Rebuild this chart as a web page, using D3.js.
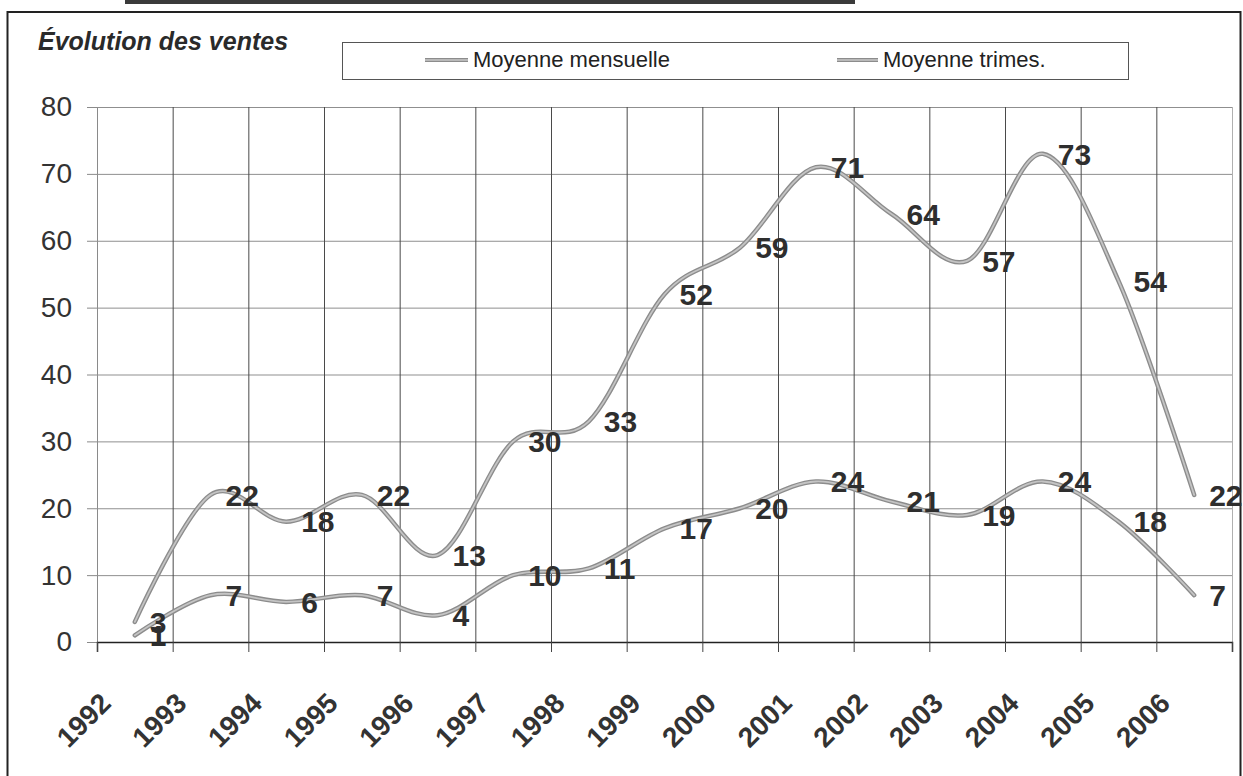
<!DOCTYPE html>
<html>
<head>
<meta charset="utf-8">
<script src="https://cdn.jsdelivr.net/npm/d3@7"></script>
<style>
  html, body { margin: 0; padding: 0; background: #ffffff; }
  svg { display: block; font-family: "Liberation Sans", Arial, sans-serif; }
</style>
</head>
<body>
<svg id="chart" width="1243" height="776"></svg>
<script>
// ---- data ----
const years = ["1992","1993","1994","1995","1996","1997","1998","1999","2000","2001","2002","2003","2004","2005","2006"];
const mensuelle = [1, 7, 6, 7, 4, 10, 11, 17, 20, 24, 21, 19, 24, 18, 7];
const trimestrielle = [3, 22, 18, 22, 13, 30, 33, 52, 59, 71, 64, 57, 73, 54, 22];
const yTicks = [0, 10, 20, 30, 40, 50, 60, 70, 80];
const seriesNames = ["Moyenne mensuelle", "Moyenne trimes."];
const titleText = "Évolution des ventes";

// ---- layout ----
const svg = d3.select("#chart");
const plot = { left: 97, right: 1232, top: 107, bottom: 642 };

const x = d3.scaleLinear().domain([0, years.length]).range([plot.left, plot.right]);
const y = d3.scaleLinear().domain([0, 80]).range([plot.bottom, plot.top]);

// frame
svg.append("rect").attr("x", 125).attr("y", 0).attr("width", 730).attr("height", 4).attr("fill", "#3a3a3a");
svg.append("rect").attr("x", 7.5).attr("y", 12).attr("width", 1233).attr("height", 800)
  .attr("fill", "none").attr("stroke", "#222").attr("stroke-width", 2);

// title
svg.append("text").attr("x", 38).attr("y", 50)
  .attr("font-size", 25).attr("font-weight", "bold").attr("font-style", "italic")
  .attr("fill", "#2a2a2a").text(titleText);

// legend
const lg = svg.append("g");
lg.append("rect").attr("x", 342.5).attr("y", 42.5).attr("width", 786).attr("height", 37)
  .attr("fill", "none").attr("stroke", "#555").attr("stroke-width", 1);
const legendItems = [{ name: seriesNames[0], x0: 425, x1: 468 }, { name: seriesNames[1], x0: 837, x1: 878 }];
legendItems.forEach(d => {
  lg.append("line").attr("x1", d.x0).attr("x2", d.x1).attr("y1", 60).attr("y2", 60)
    .attr("stroke", "#8c8c8c").attr("stroke-width", 4);
  lg.append("line").attr("x1", d.x0).attr("x2", d.x1).attr("y1", 60).attr("y2", 60)
    .attr("stroke", "#c8c8c8").attr("stroke-width", 1.5);
  lg.append("text").attr("x", d.x1 + 5).attr("y", 67).attr("font-size", 22)
    .attr("fill", "#222").text(d.name);
});

// y axis labels with small tick stubs
const yAxis = d3.axisLeft(y).tickValues(yTicks).tickSize(10).tickPadding(15).tickFormat(d3.format("d"));
const gy = svg.append("g").attr("transform", `translate(${plot.left},0)`).call(yAxis);
gy.select(".domain").attr("stroke", "#8a8a8a");
gy.selectAll(".tick line").attr("stroke", "#8a8a8a");
gy.selectAll(".tick text").attr("font-size", 28).attr("fill", "#333")
  .attr("font-family", "'Liberation Sans', Arial, sans-serif");

// horizontal gridlines
const hGrid = d3.axisLeft(y).tickValues(yTicks.filter(v => v > 0)).tickSize(-(plot.right - plot.left)).tickFormat("");
const gh = svg.append("g").attr("transform", `translate(${plot.left},0)`).call(hGrid);
gh.select(".domain").remove();
gh.selectAll(".tick line").attr("stroke", "#8f8f8f").attr("stroke-width", 1);

// vertical gridlines (category boundaries)
const vGrid = d3.axisBottom(x).tickValues(d3.range(1, years.length + 1))
  .tickSize(-(plot.bottom - plot.top)).tickFormat("");
const gv = svg.append("g").attr("transform", `translate(0,${plot.bottom})`).call(vGrid);
gv.select(".domain").remove();
gv.selectAll(".tick line").attr("stroke", (d) => d === years.length ? "#b0b0b0" : "#4a4a4a").attr("stroke-width", 1);

// x axis line and tick marks below it
const xTickMarks = d3.axisBottom(x).tickValues(d3.range(0, years.length + 1)).tickSize(10).tickFormat("");
const gxt = svg.append("g").attr("transform", `translate(0,${plot.bottom})`).call(xTickMarks);
gxt.select(".domain").attr("stroke", "#222").attr("stroke-width", 1.5);
gxt.selectAll(".tick line").attr("stroke", "#444");

// year labels, rotated
const xLabels = d3.axisBottom(x).tickValues(d3.range(0, years.length)).tickSize(0).tickFormat(i => years[i]);
const gxl = svg.append("g").attr("transform", `translate(0,${plot.bottom})`).call(xLabels);
gxl.select(".domain").remove();
gxl.selectAll(".tick text")
  .attr("font-size", 28).attr("font-weight", "bold").attr("fill", "#333")
  .attr("font-family", "'Liberation Sans', Arial, sans-serif")
  .attr("text-anchor", "end").attr("dy", null).attr("y", 0)
  .attr("transform", "translate(15,63) rotate(-45)");

// lines
const line = d3.line().x((d, i) => x(i + 0.5)).y(d => y(d)).curve(d3.curveCardinal.tension(0));
[trimestrielle, mensuelle].forEach(s => {
  svg.append("path").datum(s).attr("d", line).attr("fill", "none")
    .attr("stroke", "#8c8c8c").attr("stroke-width", 4.5).attr("stroke-linecap", "round");
  svg.append("path").datum(s).attr("d", line).attr("fill", "none")
    .attr("stroke", "#c4c4c4").attr("stroke-width", 1.8).attr("stroke-linecap", "round");
});

// data labels
[trimestrielle, mensuelle].forEach(s => {
  svg.append("g").selectAll("text").data(s).join("text")
    .attr("x", (d, i) => x(i + 0.5) + 15)
    .attr("y", d => y(d))
    .attr("dy", "0.36em")
    .attr("font-size", 30).attr("font-weight", "bold").attr("fill", "#2e2e2e")
    .text(d => d);
});
</script>
</body>
</html>
